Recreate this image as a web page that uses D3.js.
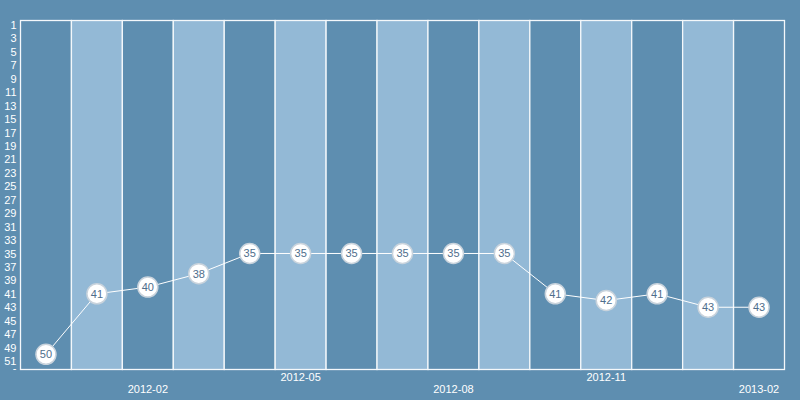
<!DOCTYPE html>
<html>
<head>
<meta charset="utf-8">
<script src="https://cdn.jsdelivr.net/npm/d3@7"></script>
<style>
  html, body { margin: 0; padding: 0; background: #5e8eb0; }
  svg { display: block; }
  text { font-family: "Liberation Sans", Arial, sans-serif; }
</style>
</head>
<body>
<svg id="chart" width="800" height="400"></svg>
<script>
const months = ["2011-12","2012-01","2012-02","2012-03","2012-04","2012-05","2012-06","2012-07","2012-08","2012-09","2012-10","2012-11","2012-12","2013-01","2013-02"];
const ranks = [50, 41, 40, 38, 35, 35, 35, 35, 35, 35, 41, 42, 41, 43, 43];
const xTickLabels = ["2012-02","2012-05","2012-08","2012-11","2013-02"];
const yTickValues = [1,3,5,7,9,11,13,15,17,19,21,23,25,27,29,31,33,35,37,39,41,43,45,47,49,51,52];
const yTickLabels = ["1","3","5","7","9","11","13","15","17","19","21","23","25","27","29","31","33","35","37","39","41","43","45","47","49","51","-"];

(function () {
const svg = d3.select("#chart");
const W = 800, H = 400;
const mLeft = 20.5, mRight = 784.5, mTop = 20.5, mBottom = 369.5;

svg.append("rect").attr("width", W).attr("height", H).attr("fill", "#5e8eb0");

const x = d3.scaleBand().domain(months).range([mLeft, mRight]).padding(0);
const unit = (361 - 25) / 50;
const y = d3.scaleLinear()
  .domain([1 - (25 - mTop) / unit, 51 + (mBottom - 361) / unit])
  .range([mTop, mBottom]);

// bands
svg.append("g").selectAll("rect").data(months).join("rect")
  .attr("x", d => x(d)).attr("y", mTop)
  .attr("width", x.bandwidth()).attr("height", mBottom - mTop)
  .attr("fill", (d, i) => i % 2 ? "#93b9d6" : "#5e8eb0")
  .attr("stroke", "#f4f8fb").attr("stroke-width", 1.3);

// y axis labels
const yAxis = d3.axisLeft(y).tickValues(yTickValues)
  .tickFormat((d, i) => yTickLabels[i]).tickSize(0).tickPadding(4);
const gy = svg.append("g").attr("transform", `translate(${mLeft},0)`).call(yAxis);
gy.select(".domain").remove();
gy.selectAll("text").attr("fill", "#ffffff").attr("font-size", 11)
  .attr("font-family", "Liberation Sans, Arial, sans-serif");

// x axis labels
const xAxis = d3.axisBottom(x).tickValues(xTickLabels).tickSize(0);
const gx = svg.append("g").attr("transform", `translate(0,${mBottom})`).call(xAxis);
gx.select(".domain").remove();
gx.selectAll("text").attr("fill", "#ffffff").attr("font-size", 11)
  .attr("font-family", "Liberation Sans, Arial, sans-serif")
  .attr("y", (d, i) => i % 2 ? 4 : 16).attr("dy", "0.71em");

// line
const line = d3.line().x((d, i) => x(months[i]) + x.bandwidth() / 2).y(d => y(d));
svg.append("path").datum(ranks).attr("d", line)
  .attr("fill", "none").attr("stroke", "#ffffff").attr("stroke-width", 1);

// points
const pts = svg.append("g").selectAll("g").data(ranks).join("g")
  .attr("transform", (d, i) => `translate(${x(months[i]) + x.bandwidth() / 2},${y(d)})`);
pts.append("circle").attr("r", 10).attr("fill", "#ffffff")
  .attr("stroke", "#c9d3dc").attr("stroke-width", 1.5);
pts.append("text").text(d => d).attr("text-anchor", "middle").attr("dy", "0.36em")
  .attr("font-size", 11).attr("fill", "#4f6e8c");
})();
</script>
</body>
</html>
